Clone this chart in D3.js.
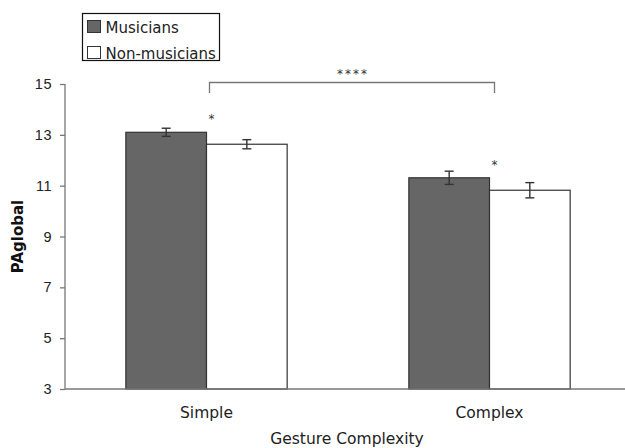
<!DOCTYPE html>
<html lang="en">
<head>
  <meta charset="UTF-8" />
  <title>PAglobal by Gesture Complexity</title>
  <style>
    html, body { margin: 0; background: #fff; }
    body { font-family: "DejaVu Sans", Verdana, sans-serif; }
    .axis text { font-size: 14.5px; fill: #222; }
  </style>
</head>
<body>
  <svg id="chart" width="625" height="448"></svg>

  <script src="https://cdn.jsdelivr.net/npm/d3@7"></script>
  <script>
    // data
    const categories = ["Simple", "Complex"];
    const groups = ["Musicians", "Non-musicians"];
    const musicians = [13.1, 11.31];
    const nonMusicians = [12.63, 10.82];
    const musiciansErr = [0.16, 0.26];
    const nonMusiciansErr = [0.18, 0.3];
    const yTicks = [3, 5, 7, 9, 11, 13, 15];
    const colors = ["#666666", "#ffffff"];

    const rows = categories.flatMap((c, i) => [
      {cat: c, group: groups[0], v: musicians[i], e: musiciansErr[i]},
      {cat: c, group: groups[1], v: nonMusicians[i], e: nonMusiciansErr[i]}
    ]);

    const svg = d3.select("#chart");
    const plotL = 65, plotR = 631, plotT = 84, plotB = 389;

    const x = d3.scaleBand().domain(categories)
      .range([plotL, plotR]).paddingInner(0.43).paddingOuter(0.215);
    const xs = d3.scaleBand().domain(groups).range([0, x.bandwidth()]);
    const y = d3.scaleLinear().domain([3, 15]).range([plotB, plotT]);
    const color = d3.scaleOrdinal().domain(groups).range(colors);

    // y axis
    const yAx = svg.append("g")
      .attr("class", "axis")
      .attr("transform", `translate(${plotL},0)`)
      .call(d3.axisLeft(y).tickValues(yTicks).tickSize(5).tickPadding(8));
    yAx.selectAll("path, line").attr("stroke", "#777").attr("stroke-width", 1.3);
    yAx.select(".domain").attr("d", `M0,${plotT}V${plotB}`);
    yAx.selectAll("text").attr("letter-spacing", "0.5px");

    // bars
    svg.append("g").selectAll("rect")
      .data(rows)
      .enter().append("rect")
        .attr("x", d => x(d.cat) + xs(d.group))
        .attr("y", d => y(d.v))
        .attr("width", xs.bandwidth())
        .attr("height", d => y(3) - y(d.v))
        .attr("fill", d => color(d.group))
        .attr("stroke", "#333")
        .attr("stroke-width", 1.2);

    // error bars
    const eb = svg.append("g").attr("stroke", "#333").attr("stroke-width", 1.4);
    rows.forEach(d => {
      const cx = x(d.cat) + xs(d.group) + xs.bandwidth() / 2;
      eb.append("line").attr("x1", cx).attr("x2", cx)
        .attr("y1", y(d.v + d.e)).attr("y2", y(d.v - d.e));
      [d.v + d.e, d.v - d.e].forEach(v => {
        eb.append("line").attr("x1", cx - 4.5).attr("x2", cx + 4.5)
          .attr("y1", y(v)).attr("y2", y(v));
      });
    });

    // x axis line
    svg.append("line")
      .attr("x1", plotL).attr("x2", 625)
      .attr("y1", plotB).attr("y2", plotB)
      .attr("stroke", "#777").attr("stroke-width", 1.3);

    // category labels
    svg.append("g").selectAll("text")
      .data(categories)
      .enter().append("text")
        .attr("x", d => x(d) + x.bandwidth() / 2)
        .attr("y", 418)
        .attr("text-anchor", "middle")
        .style("font-size", "15.5px")
        .attr("fill", "#222")
        .text(d => d);

    svg.append("text")
      .attr("x", 347).attr("y", 444)
      .attr("text-anchor", "middle")
      .style("font-size", "15.5px")
      .attr("fill", "#222")
      .text("Gesture Complexity");

    svg.append("text")
      .attr("transform", `translate(23,${(plotT + plotB) / 2}) rotate(-90)`)
      .attr("text-anchor", "middle")
      .style("font-size", "15px")
      .style("font-weight", "bold")
      .attr("fill", "#111")
      .text("PAglobal");

    // significance bracket between categories
    const bx1 = x("Simple") + xs("Non-musicians") + 3;
    const bx2 = x("Complex") + xs("Non-musicians") + 5;
    svg.append("path")
      .attr("d", `M${bx1},93V82.5H${bx2}V93`)
      .attr("fill", "none")
      .attr("stroke", "#777")
      .attr("stroke-width", 1.3);
    svg.append("text")
      .attr("x", (bx1 + bx2) / 2 + 1).attr("y", 78)
      .attr("text-anchor", "middle")
      .attr("letter-spacing", "2px")
      .style("font-size", "12px")
      .attr("fill", "#333")
      .text("****");

    // single stars above each pair
    categories.forEach((c, i) => {
      svg.append("text")
        .attr("x", x(c) + xs("Non-musicians") + 5)
        .attr("y", y(musicians[i]) - 9)
        .attr("text-anchor", "middle")
        .style("font-size", "12px")
        .attr("fill", "#333")
        .text("*");
    });

    // legend
    const legend = svg.append("g").attr("transform", "translate(82,13)");
    legend.append("rect")
      .attr("x", 0.5).attr("y", 0.5)
      .attr("width", 137).attr("height", 47)
      .attr("fill", "#fff").attr("stroke", "#111").attr("stroke-width", 1.2);
    groups.forEach((g, i) => {
      const row = legend.append("g").attr("transform", `translate(5.5,${7.5 + i * 26})`);
      row.append("rect")
        .attr("width", 13).attr("height", 12)
        .attr("fill", color(g)).attr("stroke", "#333");
      row.append("text")
        .attr("x", 18).attr("y", 12)
        .style("font-size", "15px")
        .attr("fill", "#222")
        .text(g);
    });
  </script>
</body>
</html>
